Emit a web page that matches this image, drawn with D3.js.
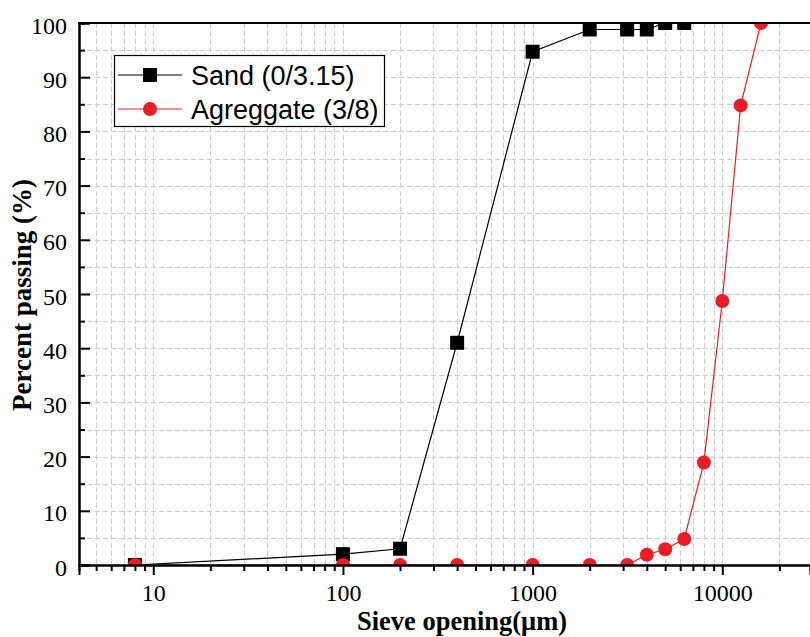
<!DOCTYPE html>
<html>
<head>
<meta charset="utf-8">
<script src="https://cdn.jsdelivr.net/npm/d3@7"></script>
<style>
  html, body { margin: 0; padding: 0; background: #fff; }
  svg { display: block; }
</style>
</head>
<body>
<svg id="chart" width="810" height="637"></svg>
<script>
// Sieve analysis: cumulative percent passing vs sieve opening (µm)
const sieveSand = [8, 100, 200, 400, 1000, 2000, 3150, 4000, 5000, 6300];
const passingSand = [0, 2, 3, 41, 94.7, 98.8, 98.8, 98.8, 100, 100];

const sieveAgg = [8, 100, 200, 400, 1000, 2000, 3150, 4000, 5000, 6300, 8000, 10000, 12500, 16000];
const passingAgg = [0, 0, 0, 0, 0, 0, 0, 1.9, 2.9, 4.8, 18.9, 48.7, 84.8, 100];

const xMajorTicks = [10, 100, 1000, 10000];
const yMajorTicks = [0, 10, 20, 30, 40, 50, 60, 70, 80, 90, 100];
const yMinorTicks = [5, 15, 25, 35, 45, 55, 65, 75, 85, 95];

const seriesNames = ["Sand (0/3.15)", "Agreggate (3/8)"];

const svg = d3.select("#chart");
const mLeft = 79, mRight = 810, mTop = 23, mBottom = 565;

const x = d3.scaleLog().domain([4.06, 29000]).range([mLeft, mRight]);
const y = d3.scaleLinear().domain([0, 100]).range([mBottom, mTop]);

const serif = "'Liberation Serif', 'Times New Roman', serif";
const sans = "'Liberation Sans', Arial, sans-serif";

// grid
const grid = svg.append("g").attr("stroke", "#cccccc").attr("stroke-width", 1)
  .attr("stroke-dasharray", "5,3").attr("fill", "none");
x.ticks().forEach(v => {
  const px = Math.round(x(v)) + 0.5;
  grid.append("line").attr("x1", px).attr("x2", px).attr("y1", mTop).attr("y2", mBottom);
});
yMajorTicks.concat(yMinorTicks).filter(v => v > 0 && v < 100).forEach(v => {
  const py = Math.round(y(v)) + 0.5;
  grid.append("line").attr("x1", mLeft).attr("x2", mRight).attr("y1", py).attr("y2", py);
});

// data
svg.append("clipPath").attr("id", "plotclip")
  .append("rect").attr("x", mLeft).attr("y", mTop).attr("width", mRight - mLeft).attr("height", mBottom - mTop);
const plot = svg.append("g").attr("clip-path", "url(#plotclip)");

const line = d3.line().x(d => x(d[0])).y(d => y(d[1]));
const sand = sieveSand.map((s, i) => [s, passingSand[i]]);
const agg = sieveAgg.map((s, i) => [s, passingAgg[i]]);

const black = "#000000", red = "#ed1c24";
const sq = 14, r = 7;

plot.append("path").datum(sand).attr("d", line).attr("fill", "none").attr("stroke", black).attr("stroke-width", 1.2);
plot.selectAll("rect.sand").data(sand).enter().append("rect").attr("class", "sand")
  .attr("x", d => x(d[0]) - sq / 2).attr("y", d => y(d[1]) - sq / 2)
  .attr("width", sq).attr("height", sq).attr("fill", black);

plot.append("path").datum(agg).attr("d", line).attr("fill", "none").attr("stroke", red).attr("stroke-width", 1.2);
plot.selectAll("circle.agg").data(agg).enter().append("circle").attr("class", "agg")
  .attr("cx", d => x(d[0])).attr("cy", d => y(d[1])).attr("r", r).attr("fill", red);

// axes
const xAxis = svg.append("g").attr("transform", `translate(0,${mBottom})`);
xAxis.call(d3.axisBottom(x).tickValues(x.ticks().filter(v => !xMajorTicks.includes(v))).tickSize(6).tickFormat(""));
xAxis.append("g").call(d3.axisBottom(x).tickValues(xMajorTicks).tickSize(10).tickFormat(d3.format("d")).tickPadding(9));
xAxis.selectAll(".domain").attr("stroke-width", 2).attr("stroke", "#000");
xAxis.selectAll(".tick line").attr("stroke-width", 2).attr("stroke", "#000");
xAxis.selectAll("text").attr("font-family", serif).attr("font-size", 24).attr("fill", "#000");

const yAxis = svg.append("g").attr("transform", `translate(${mLeft},0)`);
yAxis.call(d3.axisLeft(y).tickValues(yMinorTicks).tickSize(-6).tickFormat(""));
yAxis.append("g").call(d3.axisLeft(y).tickValues(yMajorTicks).tickSize(-11).tickPadding(12).tickFormat(d3.format("d")));
yAxis.selectAll(".domain").attr("stroke-width", 2).attr("stroke", "#000");
yAxis.selectAll(".tick line").attr("stroke-width", 2).attr("stroke", "#000");
yAxis.selectAll("text").attr("font-family", serif).attr("font-size", 24).attr("fill", "#000").attr("dy", "0.42em");

// top frame
svg.append("line").attr("x1", mLeft - 1).attr("x2", mRight).attr("y1", mTop).attr("y2", mTop)
  .attr("stroke", "#000").attr("stroke-width", 2);

// axis titles
svg.append("text").attr("x", 462).attr("y", 630).attr("text-anchor", "middle")
  .attr("font-family", serif).attr("font-weight", "bold").attr("font-size", 26.5)
  .text("Sieve opening(μm)");
svg.append("text").attr("transform", "translate(31,295) rotate(-90)").attr("text-anchor", "middle")
  .attr("font-family", serif).attr("font-weight", "bold").attr("font-size", 27)
  .text("Percent passing (%)");

// legend
const lg = svg.append("g");
lg.append("rect").attr("x", 114.5).attr("y", 55.5).attr("width", 270).attr("height", 71)
  .attr("fill", "#fff").attr("stroke", "#000").attr("stroke-width", 1.2);
const rows = [{ name: seriesNames[0], color: black, shape: "sq", cy: 75 },
              { name: seriesNames[1], color: red, shape: "ci", cy: 109 }];
rows.forEach(rw => {
  lg.append("line").attr("x1", 118).attr("x2", 182).attr("y1", rw.cy).attr("y2", rw.cy)
    .attr("stroke", rw.color).attr("stroke-width", 1.2);
  if (rw.shape === "sq") {
    lg.append("rect").attr("x", 150 - sq / 2).attr("y", rw.cy - sq / 2).attr("width", sq).attr("height", sq).attr("fill", rw.color);
  } else {
    lg.append("circle").attr("cx", 150).attr("cy", rw.cy).attr("r", r).attr("fill", rw.color);
  }
  lg.append("text").attr("x", 191).attr("y", rw.cy + 9.5).attr("font-family", sans).attr("font-size", 27)
    .attr("fill", "#000").text(rw.name);
});
</script>
</body>
</html>
